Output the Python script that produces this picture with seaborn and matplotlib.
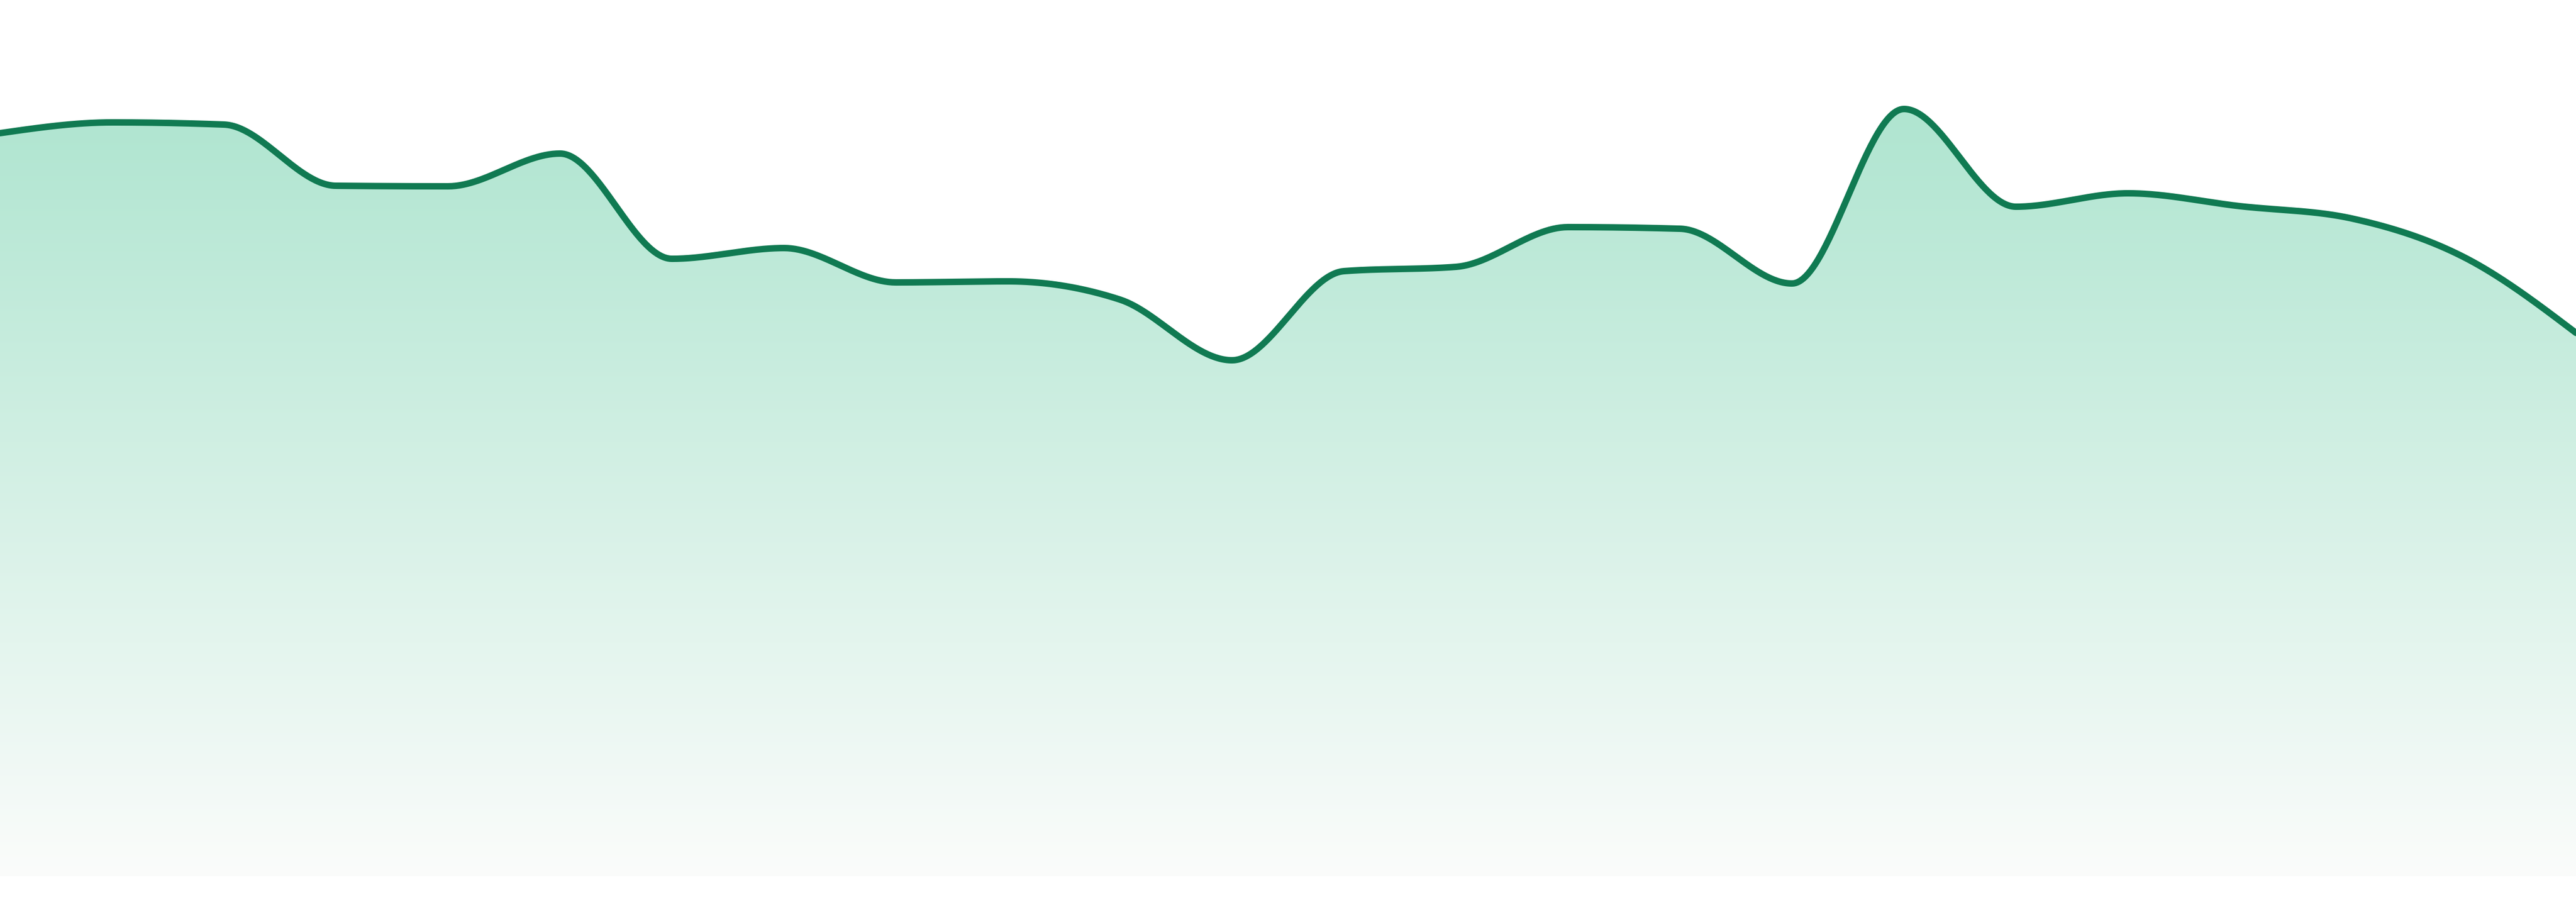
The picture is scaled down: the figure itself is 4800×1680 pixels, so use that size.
import numpy as np
import pandas as pd
import matplotlib
matplotlib.use("Agg")
import matplotlib.pyplot as plt
import seaborn as sns

# Data
steps = list(range(24))
values = [138.4, 140.4, 140.0, 128.6, 128.5, 134.6, 115.0, 117.0, 110.6, 110.8,
          107.4, 96.1, 112.7, 113.5, 120.9, 120.6, 110.4, 142.9, 124.7, 127.2,
          124.8, 122.5, 115.3, 101.2]

line_color = "#107a52"
top_rgb = np.array([175, 229, 208]) / 255
bottom_rgb = np.array([251, 252, 251]) / 255
y_max = 163.2


def sign(v):
    return np.where(v < 0, -1.0, 1.0)


def monotone_curve(x, y, n=60):
    # monotone cubic interpolation (same as d3 curveMonotoneX)
    x = np.asarray(x, float)
    y = np.asarray(y, float)
    h = np.diff(x)
    s = np.diff(y) / h
    t = np.zeros_like(y)
    for i in range(1, len(y) - 1):
        p = (s[i - 1] * h[i] + s[i] * h[i - 1]) / (h[i - 1] + h[i])
        t[i] = (sign(s[i - 1]) + sign(s[i])) * min(abs(s[i - 1]), abs(s[i]), 0.5 * abs(p))
    t[0] = (3 * s[0] - t[1]) / 2
    t[-1] = (3 * s[-1] - t[-2]) / 2
    xs, ys = [], []
    for i in range(len(h)):
        u = np.linspace(0, 1, n, endpoint=(i == len(h) - 1))
        h00 = 2 * u**3 - 3 * u**2 + 1
        h10 = u**3 - 2 * u**2 + u
        h01 = -2 * u**3 + 3 * u**2
        h11 = u**3 - u**2
        xs.append(x[i] + u * h[i])
        ys.append(h00 * y[i] + h10 * h[i] * t[i] + h01 * y[i + 1] + h11 * h[i] * t[i + 1])
    return np.concatenate(xs), np.concatenate(ys)


xs, ys = monotone_curve(steps, values)
curve = pd.DataFrame({"step": xs, "value": ys})

sns.set_theme(style="white")
fig = plt.figure(figsize=(16, 5.6), dpi=300)
fig.patch.set_facecolor("white")
ax = fig.add_axes([0, 48 / 1680, 1, 1632 / 1680])
ax.set_xlim(steps[0], steps[-1])
ax.set_ylim(0, y_max)
ax.axis("off")

# gradient fill under the curve
top_v = max(values)
rows = np.linspace(y_max, 0, 600)
frac = np.clip(rows / top_v, 0, None)[:, None]
grad = bottom_rgb + (top_rgb - bottom_rgb) * frac
grad = np.clip(grad, 0, 1)[:, None, :]
img = ax.imshow(grad, extent=[steps[0], steps[-1], 0, y_max], aspect="auto",
                interpolation="bilinear", zorder=1)
poly = ax.fill_between(curve["step"], curve["value"], 0, color="none", lw=0)
clip_path = poly.get_paths()[0]
img.set_clip_path(clip_path, transform=ax.transData)

sns.lineplot(data=curve, x="step", y="value", color=line_color, lw=2.9,
             sort=False, estimator=None, ax=ax, zorder=3)
ax.axis("off")

fig.savefig("out.png", dpi=300, facecolor="white")
